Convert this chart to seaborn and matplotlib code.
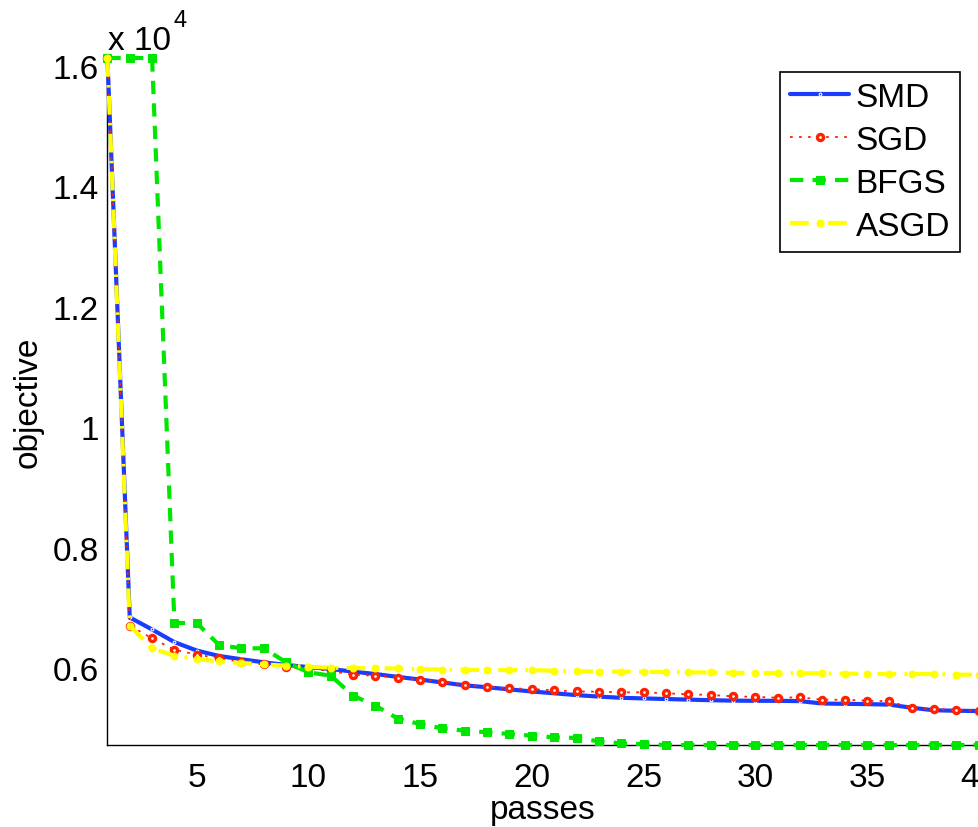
import numpy as np
import pandas as pd
import matplotlib
matplotlib.use("Agg")
import matplotlib.pyplot as plt
import seaborn as sns

# ---------------- data ----------------
passes = list(range(1, 41))

smd = [16133, 6840, 6640, 6430, 6290, 6200, 6145, 6095, 6050, 6015,
       5983, 5940, 5900, 5852, 5808, 5760, 5712, 5680, 5645, 5610,
       5580, 5550, 5525, 5505, 5495, 5485, 5475, 5465, 5458, 5455,
       5455, 5450, 5410, 5405, 5400, 5392, 5340, 5298, 5290, 5285]

sgd = [16133, 6703, 6493, 6304, 6221, 6166, 6095, 6061, 6012, 5990,
       5950, 5886, 5875, 5840, 5806, 5772, 5723, 5690, 5663, 5651,
       5630, 5610, 5606, 5596, 5596, 5580, 5563, 5552, 5530, 5520,
       5507, 5513, 5473, 5473, 5457, 5447, 5336, 5319, 5302, 5290]

bfgs = [16133, 16133, 16133, 6747, 6747, 6382, 6327, 6327, 6095, 5929,
        5872, 5540, 5374, 5160, 5068, 4998, 4959, 4932, 4904, 4876,
        4849, 4838, 4782, 4748, 4737, 4721, 4721, 4721, 4721, 4721,
        4721, 4721, 4721, 4721, 4721, 4721, 4721, 4721, 4721, 4721]

asgd = [16133, 6703, 6327, 6204, 6149, 6111, 6083, 6061, 6038, 6022,
        6005, 6000, 5995, 5993, 5983, 5972, 5970, 5967, 5966, 5965,
        5955, 5945, 5940, 5940, 5935, 5933, 5928, 5927, 5920, 5917,
        5917, 5912, 5912, 5907, 5900, 5900, 5900, 5900, 5889, 5889]

series_names = ["SMD", "SGD", "BFGS", "ASGD"]
x_ticks = [5, 10, 15, 20, 25, 30, 35, 40]
y_ticks = [6000, 8000, 10000, 12000, 14000, 16000]
y_tick_labels = ["0.6", "0.8", "1", "1.2", "1.4", "1.6"]

# ---------------- style ----------------
sns.set_theme(style="white")
plt.rcParams["font.family"] = ["Liberation Sans", "DejaVu Sans"]
plt.rcParams["text.color"] = "black"
plt.rcParams["axes.labelcolor"] = "black"
plt.rcParams["legend.labelcolor"] = "black"

W, H = 979, 828
fig = plt.figure(figsize=(W / 100, H / 100), dpi=100)
left, right, top, bottom = 107.4, 978.6, 59, 746
ax = fig.add_axes([left / W, (H - bottom) / H, (right - left) / W, (bottom - top) / H])

styles = {
    "SMD": dict(color="#1a3cff", linestyle="-", linewidth=3.0, marker=".",
                markersize=4, zorder=3),
    "SGD": dict(color="#ff2200", linestyle=(0, (1.5, 3.5)), linewidth=1.3, marker="o",
                markersize=4.4, markeredgewidth=2.4, markerfacecolor="white",
                markeredgecolor="#ff2200", zorder=4),
    "BFGS": dict(color="#00e600", linestyle=(0, (3.2, 2.2)), linewidth=3.0, marker="s",
                 markersize=6, markerfacecolor="#00e600", markeredgecolor="#00e600",
                 zorder=5),
    "ASGD": dict(color="#ffff00", linestyle=(0, (4.5, 2.0, 0.6, 2.0)), linewidth=3.0,
                 marker="o", markersize=5, markerfacecolor="#ffff00",
                 markeredgecolor="#ffff00", zorder=6),
}

values = {"SMD": smd, "SGD": sgd, "BFGS": bfgs, "ASGD": asgd}
for name in series_names:
    df = pd.DataFrame({"passes": passes, "objective": values[name]})
    sns.lineplot(data=df, x="passes", y="objective", ax=ax, label=name,
                 clip_on=False, **styles[name])

ax.set_xlim(1, 40)
ax.set_ylim(min(min(v) for v in values.values()), max(max(v) for v in values.values()))
ax.set_xticks(x_ticks)
ax.set_xticklabels([str(t) for t in x_ticks])
ax.set_yticks(y_ticks)
ax.set_yticklabels(y_tick_labels)

ax.tick_params(axis="both", direction="in", length=8, width=1, color="#555555",
               labelsize=24, labelcolor="black")
ax.tick_params(axis="x", pad=12)
ax.tick_params(axis="y", pad=6)

for s in ["top", "right"]:
    ax.spines[s].set_visible(False)
for s in ["left", "bottom"]:
    ax.spines[s].set_color("black")
    ax.spines[s].set_linewidth(1.0)

ax.set_xlabel("passes", fontsize=24, color="black")
ax.set_ylabel("objective", fontsize=24, color="black")
ax.xaxis.set_label_coords(0.5, -0.072)
ax.yaxis.set_label_coords(-0.073, 0.5)

# exponent marker "x 10^4"
fig.text(108 / W, (H - 50) / H, "x 10", fontsize=24, va="baseline", ha="left",
         color="black")
fig.text(173 / W, (H - 27) / H, "4", fontsize=17, va="baseline", ha="left",
         color="black")

leg = ax.legend(loc="upper right", bbox_to_anchor=(960 / W, (H - 73) / H),
                bbox_transform=fig.transFigure, fontsize=24, frameon=True,
                fancybox=False, edgecolor="black", handlelength=1.75,
                handletextpad=0.2, labelspacing=0.36, borderpad=0.3,
                borderaxespad=0)
leg.get_frame().set_linewidth(1.2)
leg.get_frame().set_alpha(1)
for t in leg.get_texts():
    t.set_color("black")

fig.savefig("out.png", dpi=100)
